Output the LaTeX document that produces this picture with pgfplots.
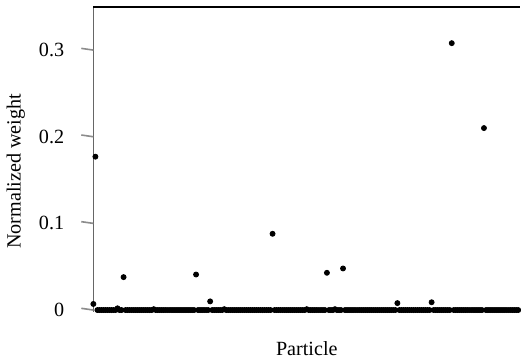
\documentclass[border=0pt]{standalone}
\usepackage{fontspec}
\setmainfont{Liberation Serif}
\usepackage{pgfplots}
\pgfplotsset{compat=1.18}
\begin{document}
\begin{tikzpicture}
\begin{axis}[
  scale only axis,
  width=212pt, height=151.5pt,
  xmin=0, xmax=212, ymin=-0.002, ymax=0.35,
  clip=false,
  separate axis lines,
  x axis line style={draw=none},
  y axis line style={draw=none},
  xtick=\empty,
  ytick={0,0.1,0.2,0.3},
  yticklabels={0,0.1,0.2,0.3},
  ytick pos=left,
  tick align=outside,
  major tick length=6pt,
  ytick style={draw=none},
  /pgf/number format/assume math mode=true,
  yticklabel style={xshift=-5pt},
  xlabel={Particle},
  ylabel={Normalized weight},
  xlabel style={at={(axis description cs:0.5,0)}, anchor=north, yshift=-11pt},
  ylabel style={at={(axis description cs:0,0.46)}, anchor=center, yshift=38.5pt},
]
\draw[black!60, line width=0.8pt] (rel axis cs:0,0) -- (rel axis cs:0,1);
\draw[black, line width=0.8pt] (rel axis cs:0,1) -- (rel axis cs:1,1);
\pgfplotsinvokeforeach{0,0.1,0.2,0.3}{
  \draw[black!45, line width=0.8pt] (axis cs:0,#1) -- ++(-6pt,0);
}
\addplot[only marks, mark=*, mark size=1.25pt, black] coordinates {
(0,0.007)(1,0.177)(2,0)(3,0)(4,0)(5,0)(6,0)(7,0)(8,0)(9,0)
(10,0)(11,0)(12,0.002)(13,0)(14,0)(15,0.038)(16,0)(17,0)(18,0)(19,0)
(20,0)(21,0)(22,0)(23,0)(24,0)(25,0)(26,0)(27,0)(28,0)(29,0)
(30,0.001)(31,0)(32,0)(33,0)(34,0)(35,0)(36,0)(37,0)(38,0)(39,0)
(40,0)(41,0)(42,0)(43,0)(44,0)(45,0)(46,0)(47,0)(48,0)(49,0)
(50,0)(51,0.041)(52,0)(53,0)(54,0)(55,0)(56,0)(57,0)(58,0.010)(59,0)
(60,0)(61,0)(62,0)(63,0)(64,0)(65,0.001)(66,0)(67,0)(68,0)(69,0)
(70,0)(71,0)(72,0)(73,0)(74,0)(75,0)(76,0)(77,0)(78,0)(79,0)
(80,0)(81,0)(82,0)(83,0)(84,0)(85,0)(86,0)(87,0)(88,0)(89,0.088)
(90,0)(91,0)(92,0)(93,0)(94,0)(95,0)(96,0)(97,0)(98,0)(99,0)
(100,0)(101,0)(102,0)(103,0)(104,0)(105,0)(106,0.001)(107,0)(108,0)(109,0)
(110,0)(111,0)(112,0)(113,0)(114,0)(115,0)(116,0.043)(117,0)(118,0)(119,0)
(120,0.001)(121,0)(122,0)(123,0)(124,0.048)(125,0)(126,0)(127,0)(128,0)(129,0)
(130,0)(131,0)(132,0)(133,0)(134,0)(135,0)(136,0)(137,0)(138,0)(139,0)
(140,0)(141,0)(142,0)(143,0)(144,0)(145,0)(146,0)(147,0)(148,0)(149,0)
(150,0)(151,0.008)(152,0)(153,0)(154,0)(155,0)(156,0)(157,0)(158,0)(159,0)
(160,0)(161,0)(162,0)(163,0)(164,0)(165,0)(166,0)(167,0)(168,0.009)(169,0)
(170,0)(171,0)(172,0)(173,0)(174,0)(175,0)(176,0)(177,0)(178,0.308)(179,0)
(180,0)(181,0)(182,0)(183,0)(184,0)(185,0)(186,0)(187,0)(188,0)(189,0)
(190,0)(191,0)(192,0)(193,0)(194,0.210)(195,0)(196,0)(197,0)(198,0)(199,0)
(200,0)(201,0)(202,0)(203,0)(204,0)(205,0)(206,0)(207,0)(208,0)(209,0)
(210,0)(211,0)
};
\path (rel axis cs:1,1) ++(0,2.5pt);
\end{axis}
\end{tikzpicture}
\end{document}
